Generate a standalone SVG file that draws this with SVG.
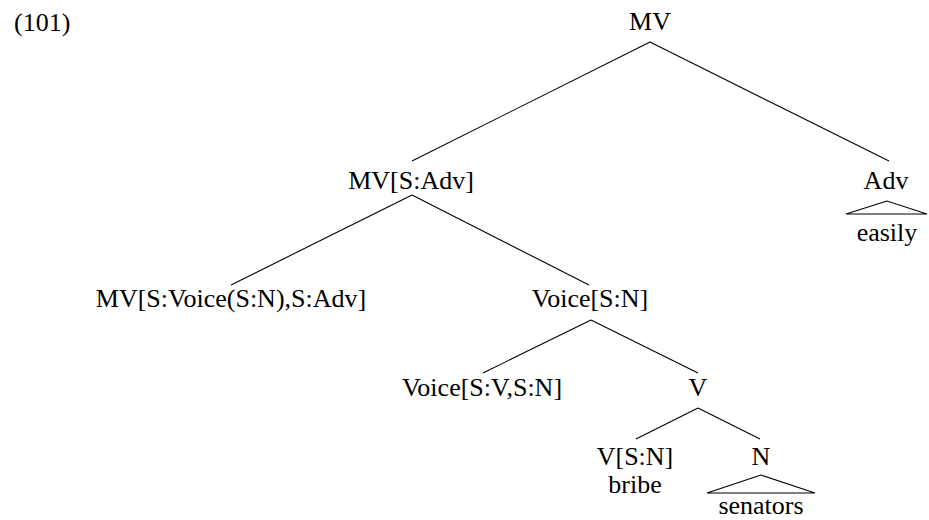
<svg xmlns="http://www.w3.org/2000/svg" width="929" height="520" viewBox="0 0 929 520">
  <style>
    .edge { stroke: #000; stroke-width: 1.1; fill: none; }
    .lbl { font-family: 'Liberation Serif', 'Times New Roman', Times, serif; font-size: 26px; fill: #000; text-anchor: middle; }
  </style>
  <rect width="929" height="520" fill="#fff"/>
  <text class="lbl" x="14" y="31" style="text-anchor:start">(101)</text>

  <g id="connectors">
    <line class="edge" x1="650" y1="42" x2="412" y2="161"/>
    <line class="edge" x1="650" y1="42" x2="889" y2="161"/>
    <line class="edge" x1="412" y1="195" x2="231" y2="285"/>
    <line class="edge" x1="412" y1="195" x2="589" y2="285"/>
    <line class="edge" x1="591" y1="320" x2="483" y2="373"/>
    <line class="edge" x1="591" y1="320" x2="698" y2="373"/>
    <line class="edge" x1="698" y1="408" x2="636" y2="439"/>
    <line class="edge" x1="698" y1="408" x2="760" y2="439"/>
  </g>

  <g id="n-mv"><text class="lbl" x="650" y="30">MV</text></g>
  <g id="n-mv-sadv"><text class="lbl" x="411" y="189">MV[S:Adv]</text></g>
  <g id="n-adv">
    <text class="lbl" x="886" y="189">Adv</text>
    <polygon class="edge" points="887,201 846,214 927,214"/>
    <text class="lbl" x="887" y="241">easily</text>
  </g>
  <g id="n-mv-voice"><text class="lbl" x="231" y="307">MV[S:Voice(S:N),S:Adv]</text></g>
  <g id="n-voice-sn"><text class="lbl" x="590" y="307">Voice[S:N]</text></g>
  <g id="n-voice-svsn"><text class="lbl" x="482" y="396">Voice[S:V,S:N]</text></g>
  <g id="n-v"><text class="lbl" x="698" y="396">V</text></g>
  <g id="n-v-sn">
    <text class="lbl" x="635" y="465">V[S:N]</text>
    <text class="lbl" x="635" y="493">bribe</text>
  </g>
  <g id="n-n">
    <text class="lbl" x="761" y="465">N</text>
    <polygon class="edge" points="761,475 707,493 815,493"/>
    <text class="lbl" x="761" y="514">senators</text>
  </g>
</svg>
